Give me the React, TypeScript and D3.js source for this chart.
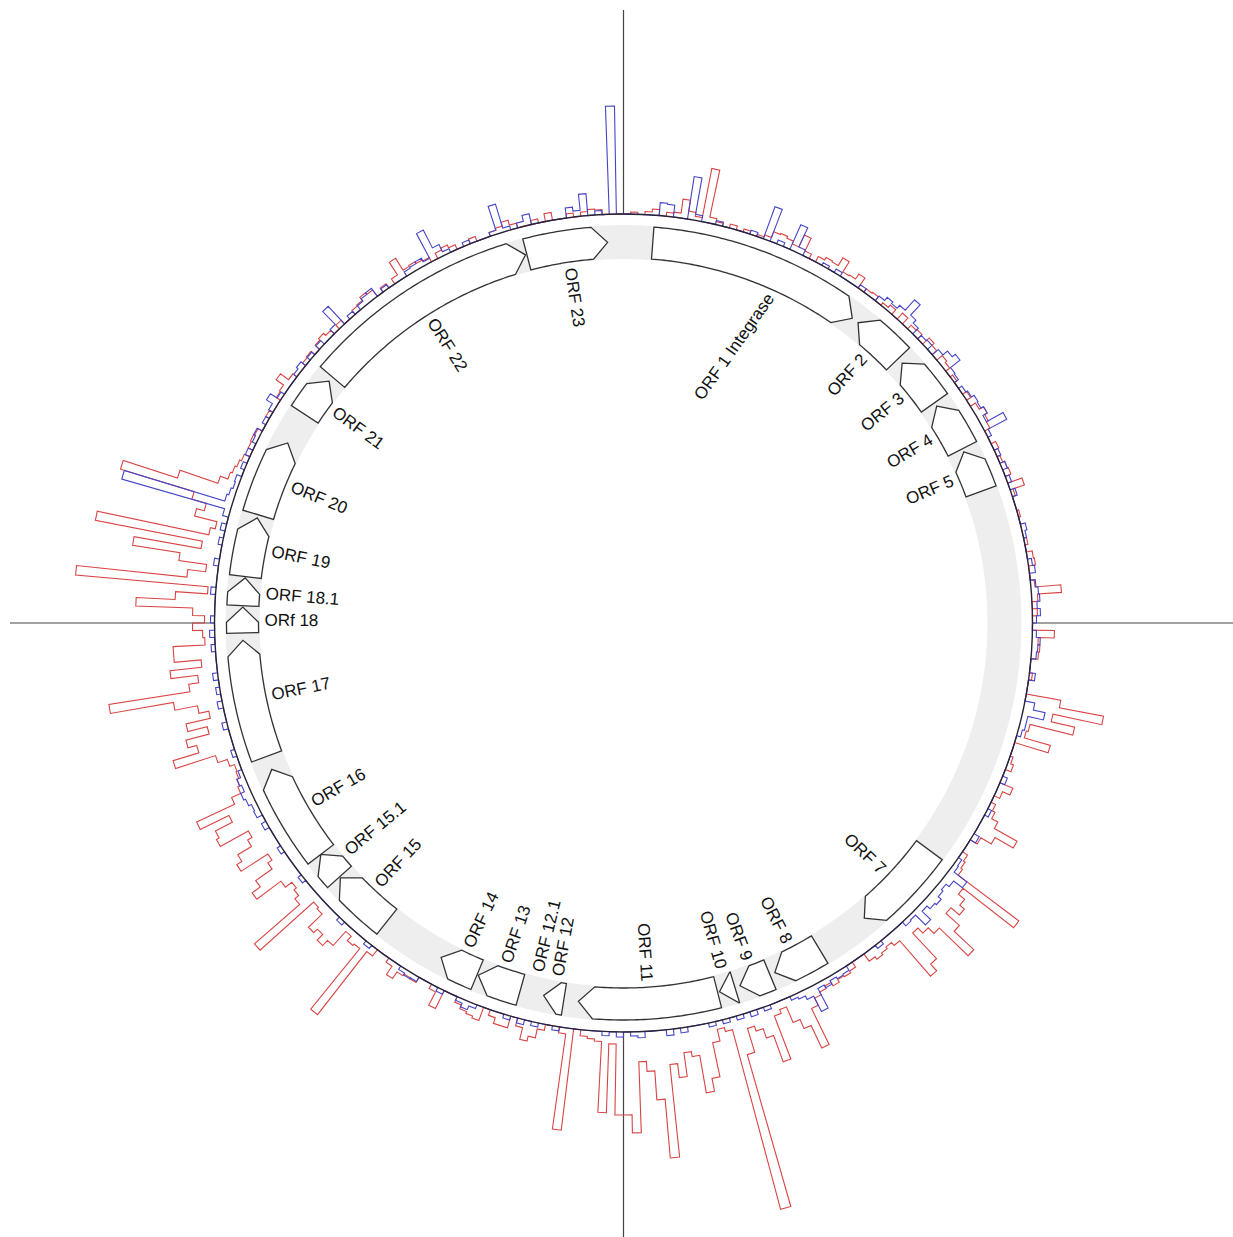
import * as d3 from 'd3';

// Circular genome map: ORF arrows + outward coverage histograms (red / blue)
// Genome position is expressed in degrees (0 = top, clockwise), 1 bin = 1 degree.

const W = 1233;
const H = 1237;
const CX = 623.5;
const CY = 623;
const R_BASE = 409;
const R_IN = 365;
const R_OUT = 397;
const BAND_IN = 364;
const BAND_OUT = 398;
const LABEL_R = 359;
const HEAD = 2.3;

const orfNames = [
  'ORF 1 Integrase', 'ORF 2', 'ORF 3', 'ORF 4', 'ORF 5', 'ORF 7', 'ORF 8', 'ORF 9', 'ORF 10',
  'ORF 11', 'ORF 12', 'ORF 12.1', 'ORF 13', 'ORF 14', 'ORF 15', 'ORF 15.1', 'ORF 16', 'ORF 17',
  'ORf 18', 'ORF 18.1', 'ORF 19', 'ORF 20', 'ORF 21', 'ORF 22', 'ORF 23',
];
const orfStart = [
  4.4, 38.0, 47.0, 55.3, 63.3, 126.6, 149.0, 157.4, 163.0,
  165.7, 189.0, 193.8, 195.7, 202.6, 218.4, 228.2, 232.6, 249.5,
  268.5, 272.6, 277.0, 286.5, 303.2, 310.2, 345.3,
];
const orfEnd = [
  36.9, 46.1, 54.7, 62.8, 69.8, 140.8, 156.6, 162.2, 165.4,
  186.8, 192.1, 193.8, 202.4, 208.6, 228.0, 232.6, 247.4, 267.4,
  272.4, 276.8, 286.0, 298.2, 309.4, 345.1, 357.6,
];
const orfStrand = [
  1, -1, -1, -1, -1, 1, 1, 1, 1,
  1, 1, 1, 1, 1, 1, 1, 1, 1,
  1, 1, 1, 1, 1, 1, 1,
];
// label placement tweaks (degrees): shift of position, tilt of text
const orfLabelShift = [3.5, 0, 0, 0, 0, 0, 0, 0, 0, 0, 0, 0, 0, 0, 0, 0, 0, 0, 0, 0, 0, 0, 0, 0, 0];
const orfLabelTilt = [11, 0, 0, 0, 0, 0, 0, 0, 0, 0, 0, 0, 0, 0, 0, 0, 0, 0, 0, 0, 0, 0, 0, 0, 0];

// coverage per 1-degree bin
const redDepth = [
  0, 2, 0, 3, 6, 0, 4, 5, 19, 8,
  4, 54, 6, 3, 0, 4, 0, 3, 0, 2,
  4, 10, 11, 9, 6, 19, 5, 0, 6, 9,
  8, 17, 5, 6, 12, 0, 4, 5, 0, 3,
  6, 0, 8, 0, 5, 6, 0, 9, 6, 0,
  7, 5, 0, 3, 0, 0, 5, 0, 6, 11,
  8, 6, 0, 0, 5, 0, 3, 5, 6, 0,
  15, 3, 0, 0, 2, 0, 0, 0, 3, 0,
  6, 7, 0, 0, 4, 30, 6, 0, 5, 0,
  0, 22, 6, 8, 7, 0, 0, 3, 0, 0,
  35, 80, 30, 54, 10, 8, 35, 0, 0, 3,
  6, 0, 0, 14, 6, 0, 5, 8, 15, 41,
  20, 8, 0, 0, 6, 8, 10, 86, 22, 30,
  36, 25, 43, 70, 30, 22, 15, 50, 59, 12,
  8, 10, 12, 9, 0, 0, 6, 8, 7, 10,
  6, 9, 12, 20, 60, 35, 25, 8, 12, 58,
  30, 20, 15, 40, 198, 12, 8, 20, 55, 68,
  30, 25, 49, 35, 128, 69, 40, 30, 101, 83,
  83, 12, 81, 10, 8, 6, 0, 102, 6, 0,
  0, 6, 15, 20, 8, 0, 12, 12, 6, 0,
  14, 12, 10, 6, 0, 0, 20, 5, 0, 0,
  6, 5, 7, 15, 5, 0, 0, 8, 88, 10,
  12, 6, 25, 32, 24, 29, 10, 8, 80, 20,
  15, 12, 20, 50, 40, 20, 15, 47, 41, 25,
  20, 52, 49, 30, 62, 20, 10, 8, 6, 5,
  10, 20, 62, 35, 44, 20, 40, 15, 25, 48,
  112, 30, 20, 47, 15, 42, 42, 10, 12, 22,
  10, 22, 79, 40, 8, 141, 30, 12, 40, 88,
  20, 129, 15, 10, 33, 25, 40, 117, 60, 20,
  12, 10, 8, 6, 0, 5, 6, 5, 0, 0,
  4, 0, 0, 5, 6, 15, 5, 0, 0, 4,
  5, 0, 6, 8, 5, 0, 5, 0, 0, 5,
  6, 10, 8, 0, 5, 0, 6, 21, 7, 8,
  6, 5, 0, 6, 8, 5, 0, 0, 5, 0,
  0, 4, 6, 10, 5, 0, 0, 4, 0, 8,
  0, 0, 4, 0, 4, 6, 5, 0, 0, 0,
];
const blueDepth = [
  0, 0, 0, 0, 0, 13, 12, 0, 0, 43,
  6, 0, 0, 4, 0, 0, 0, 0, 4, 0,
  34, 0, 4, 0, 27, 6, 0, 0, 0, 3,
  0, 4, 0, 0, 0, 4, 0, 0, 6, 10,
  8, 12, 26, 12, 8, 0, 5, 6, 0, 8,
  14, 18, 6, 5, 0, 4, 6, 9, 8, 11,
  6, 25, 4, 0, 0, 4, 0, 5, 0, 4,
  0, 5, 0, 0, 0, 0, 5, 3, 0, 0,
  0, 4, 6, 0, 5, 7, 8, 5, 8, 4,
  0, 4, 8, 6, 5, 0, 0, 6, 0, 0,
  0, 10, 22, 6, 6, 4, 0, 0, 0, 0,
  0, 0, 5, 0, 0, 0, 0, 4, 0, 0,
  0, 6, 0, 0, 0, 4, 5, 21, 10, 6,
  8, 12, 10, 6, 18, 4, 5, 0, 0, 0,
  0, 4, 0, 0, 0, 0, 0, 5, 6, 4,
  8, 5, 27, 10, 6, 4, 0, 0, 0, 4,
  0, 5, 0, 4, 0, 4, 0, 4, 0, 0,
  0, 5, 0, 6, 0, 0, 0, 6, 4, 0,
  5, 0, 4, 0, 0, 0, 0, 0, 0, 4,
  0, 0, 4, 0, 5, 0, 4, 0, 0, 0,
  0, 4, 8, 4, 0, 0, 4, 0, 0, 0,
  5, 6, 4, 0, 0, 0, 0, 0, 4, 0,
  0, 0, 0, 4, 0, 0, 0, 0, 0, 0,
  0, 4, 0, 0, 0, 0, 4, 0, 0, 0,
  5, 0, 6, 5, 8, 10, 6, 8, 4, 0,
  0, 4, 0, 0, 0, 5, 0, 0, 5, 0,
  4, 0, 5, 0, 0, 0, 4, 0, 5, 0,
  4, 0, 0, 0, 5, 0, 0, 0, 5, 0,
  0, 4, 0, 5, 0, 6, 113, 8, 6, 4,
  5, 0, 4, 0, 5, 0, 4, 6, 0, 4,
  0, 5, 12, 4, 0, 0, 0, 4, 6, 0,
  4, 0, 5, 0, 0, 6, 24, 0, 4, 0,
  5, 8, 10, 0, 4, 0, 0, 0, 5, 6,
  8, 4, 32, 12, 4, 0, 0, 4, 0, 0,
  0, 4, 29, 4, 0, 5, 11, 0, 0, 0,
  0, 0, 10, 6, 22, 0, 4, 0, 108, 0,
];

const angle = d3.scaleLinear().domain([0, 360]).range([0, 2 * Math.PI]);
const depth = d3.scaleLinear().domain([0, 200]).range([R_BASE, R_BASE + 200]);

const radial = d3
  .lineRadial<[number, number]>()
  .angle((d) => d[0])
  .radius((d) => d[1])
  .curve(d3.curveLinearClosed);

function stepPath(vals: number[]) {
  const pts: [number, number][] = [];
  vals.forEach((v, i) => {
    pts.push([angle(i), depth(v)], [angle(i + 1), depth(v)]);
  });
  return radial(pts) || '';
}

function arrowPath(a0: number, a1: number, strand: number) {
  const h = Math.min(HEAD, a1 - a0);
  const rm = (R_IN + R_OUT) / 2;
  const pts: [number, number][] = [];
  const arc = (from: number, to: number, r: number) => {
    const n = Math.max(1, Math.ceil(Math.abs(to - from) / 0.5));
    for (let k = 0; k <= n; k++) pts.push([angle(from + ((to - from) * k) / n), r]);
  };
  if (strand > 0) {
    const b = a1 - h;
    arc(a0, b, R_OUT);
    pts.push([angle(a1), rm]);
    arc(b, a0, R_IN);
  } else {
    const b = a0 + h;
    pts.push([angle(a0), rm]);
    arc(b, a1, R_OUT);
    arc(a1, b, R_IN);
  }
  return radial(pts) || '';
}

const ringArc = d3.arc()({
  innerRadius: BAND_IN,
  outerRadius: BAND_OUT,
  startAngle: 0,
  endAngle: 2 * Math.PI,
}) as string;

export default function App() {
  const orfs = orfNames.map((name, i) => ({
    name,
    a0: orfStart[i],
    a1: orfEnd[i],
    strand: orfStrand[i],
    shift: orfLabelShift[i],
    tilt: orfLabelTilt[i],
  }));

  return (
    <svg
      width={W}
      height={H}
      style={{ position: 'absolute', left: 0, top: 0, background: '#fff' }}
      fontFamily="'Liberation Sans', Arial, Helvetica, sans-serif"
    >
      {/* cross lines */}
      <line x1={CX} x2={CX} y1={10} y2={H} stroke="#444" strokeWidth={1.2} />
      <line x1={10} x2={W} y1={CY} y2={CY} stroke="#444" strokeWidth={1.2} />
      <g transform={`translate(${CX},${CY})`}>
        <circle r={R_BASE} fill="#fff" />
        <path d={ringArc} fill="#eeeeee" />
        {orfs
          .filter((o) => o.a1 - o.a0 > 0.3)
          .map((o) => (
            <path
              key={o.name}
              d={arrowPath(o.a0, o.a1, o.strand)}
              fill="#fff"
              stroke="#333"
              strokeWidth={1.3}
            />
          ))}
        {orfs.map((o) => {
          const mid = (o.a0 + o.a1) / 2 + o.shift;
          const right = mid < 180;
          const a = angle(mid);
          const x = LABEL_R * Math.sin(a);
          const y = -LABEL_R * Math.cos(a);
          const rot = (right ? mid - 90 : mid + 90) + o.tilt;
          return (
            <text
              key={'l' + o.name}
              transform={`translate(${x},${y}) rotate(${rot})`}
              textAnchor={right ? 'end' : 'start'}
              dominantBaseline="central"
              fontSize={17}
              fill="#111"
            >
              {o.name}
            </text>
          );
        })}
        <path d={stepPath(redDepth)} fill="none" stroke="#d94444" strokeWidth={1.1} />
        <path d={stepPath(blueDepth)} fill="none" stroke="#4444c8" strokeWidth={1.1} />
        <circle r={R_BASE} fill="none" stroke="#2a2238" strokeWidth={1.4} />
      </g>
    </svg>
  );
}
